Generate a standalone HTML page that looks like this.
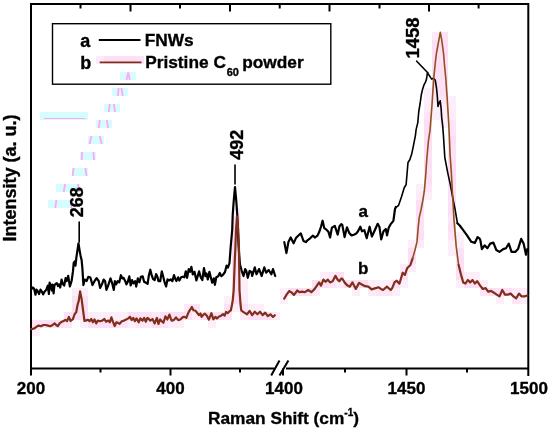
<!DOCTYPE html>
<html><head><meta charset="utf-8"><style>
html,body{margin:0;padding:0;background:#fff;width:550px;height:431px;overflow:hidden}
svg{display:block;will-change:transform}
text{font-family:"Liberation Sans",sans-serif;font-weight:bold;fill:#000;stroke:#000;stroke-width:0.35px}
</style></head><body>
<svg width="550" height="431" viewBox="0 0 550 431">
<g fill="#fcdff5"><rect x="432" y="32" width="8" height="8" fill-opacity="0.7"/><rect x="440" y="32" width="8" height="8" fill-opacity="0.9"/><rect x="432" y="40" width="16" height="8"/><rect x="432" y="48" width="16" height="8"/><rect x="96" y="56" width="8" height="8" fill-opacity="0.7"/><rect x="136" y="56" width="8" height="8" fill-opacity="0.9"/><rect x="440" y="56" width="8" height="8" fill-opacity="0.9"/><rect x="104" y="56" width="32" height="8"/><rect x="432" y="56" width="8" height="8"/><rect x="432" y="64" width="16" height="8"/><rect x="432" y="72" width="8" height="8" fill-opacity="0.9"/><rect x="440" y="72" width="8" height="8"/><rect x="440" y="80" width="8" height="8" fill-opacity="0.9"/><rect x="432" y="80" width="8" height="8"/><rect x="424" y="88" width="8" height="8" fill-opacity="0.5"/><rect x="432" y="88" width="8" height="8" fill-opacity="0.8"/><rect x="440" y="88" width="8" height="8"/><rect x="424" y="96" width="8" height="8" fill-opacity="0.5"/><rect x="448" y="96" width="8" height="8" fill-opacity="0.5"/><rect x="432" y="96" width="8" height="8" fill-opacity="0.7"/><rect x="440" y="96" width="8" height="8" fill-opacity="0.8"/><rect x="432" y="104" width="8" height="8" fill-opacity="0.5"/><rect x="448" y="104" width="8" height="8" fill-opacity="0.5"/><rect x="424" y="104" width="8" height="8" fill-opacity="0.6"/><rect x="440" y="104" width="8" height="8" fill-opacity="0.6"/><rect x="432" y="112" width="16" height="8" fill-opacity="0.5"/><rect x="448" y="112" width="8" height="8" fill-opacity="0.6"/><rect x="424" y="112" width="8" height="8" fill-opacity="0.8"/><rect x="440" y="120" width="8" height="8" fill-opacity="0.5"/><rect x="448" y="120" width="8" height="8" fill-opacity="0.8"/><rect x="424" y="120" width="8" height="8"/><rect x="448" y="128" width="8" height="8" fill-opacity="0.8"/><rect x="424" y="128" width="8" height="8"/><rect x="424" y="136" width="8" height="8"/><rect x="448" y="136" width="8" height="8"/><rect x="448" y="144" width="8" height="8" fill-opacity="0.9"/><rect x="424" y="144" width="8" height="8"/><rect x="424" y="152" width="8" height="8" fill-opacity="0.9"/><rect x="448" y="152" width="8" height="8" fill-opacity="0.9"/><rect x="424" y="160" width="8" height="8"/><rect x="448" y="160" width="8" height="8"/><rect x="424" y="168" width="8" height="8" fill-opacity="0.9"/><rect x="448" y="168" width="8" height="8"/><rect x="424" y="176" width="8" height="8"/><rect x="448" y="176" width="8" height="8"/><rect x="416" y="184" width="8" height="8" fill-opacity="0.5"/><rect x="424" y="184" width="8" height="8" fill-opacity="0.8"/><rect x="448" y="184" width="8" height="8" fill-opacity="0.9"/><rect x="424" y="192" width="8" height="8" fill-opacity="0.5"/><rect x="416" y="192" width="8" height="8" fill-opacity="0.7"/><rect x="448" y="192" width="8" height="8"/><rect x="448" y="200" width="8" height="8" fill-opacity="0.9"/><rect x="416" y="200" width="8" height="8"/><rect x="232" y="208" width="8" height="8" fill-opacity="0.5"/><rect x="416" y="208" width="8" height="8"/><rect x="448" y="208" width="8" height="8"/><rect x="448" y="216" width="8" height="8" fill-opacity="0.8"/><rect x="416" y="216" width="8" height="8" fill-opacity="0.9"/><rect x="232" y="216" width="8" height="8"/><rect x="416" y="224" width="8" height="8" fill-opacity="0.9"/><rect x="232" y="224" width="8" height="8"/><rect x="448" y="224" width="8" height="8"/><rect x="456" y="232" width="8" height="8" fill-opacity="0.5"/><rect x="448" y="232" width="8" height="8" fill-opacity="0.8"/><rect x="232" y="232" width="8" height="8"/><rect x="416" y="232" width="8" height="8"/><rect x="408" y="240" width="8" height="8" fill-opacity="0.5"/><rect x="448" y="240" width="16" height="8" fill-opacity="0.5"/><rect x="416" y="240" width="8" height="8" fill-opacity="0.7"/><rect x="232" y="240" width="8" height="8"/><rect x="448" y="248" width="8" height="8" fill-opacity="0.5"/><rect x="456" y="248" width="8" height="8" fill-opacity="0.9"/><rect x="232" y="248" width="8" height="8"/><rect x="408" y="248" width="8" height="8"/><rect x="232" y="256" width="8" height="8"/><rect x="408" y="256" width="8" height="8"/><rect x="456" y="256" width="8" height="8"/><rect x="408" y="264" width="8" height="8" fill-opacity="0.6"/><rect x="400" y="264" width="8" height="8" fill-opacity="0.7"/><rect x="232" y="264" width="8" height="8"/><rect x="456" y="264" width="8" height="8"/><rect x="240" y="272" width="8" height="8" fill-opacity="0.5"/><rect x="320" y="272" width="8" height="8" fill-opacity="0.5"/><rect x="464" y="272" width="16" height="8" fill-opacity="0.5"/><rect x="328" y="272" width="8" height="8" fill-opacity="0.7"/><rect x="232" y="272" width="8" height="8"/><rect x="336" y="272" width="8" height="8"/><rect x="400" y="272" width="8" height="8"/><rect x="456" y="272" width="8" height="8"/><rect x="240" y="280" width="8" height="8" fill-opacity="0.5"/><rect x="368" y="280" width="24" height="8" fill-opacity="0.5"/><rect x="400" y="280" width="8" height="8" fill-opacity="0.5"/><rect x="456" y="280" width="8" height="8" fill-opacity="0.5"/><rect x="336" y="280" width="8" height="8" fill-opacity="0.6"/><rect x="480" y="280" width="8" height="8" fill-opacity="0.6"/><rect x="328" y="280" width="8" height="8" fill-opacity="0.8"/><rect x="232" y="280" width="8" height="8"/><rect x="312" y="280" width="16" height="8"/><rect x="344" y="280" width="24" height="8"/><rect x="392" y="280" width="8" height="8"/><rect x="464" y="280" width="16" height="8"/><rect x="72" y="288" width="16" height="8" fill-opacity="0.5"/><rect x="240" y="288" width="8" height="8" fill-opacity="0.5"/><rect x="280" y="288" width="8" height="8" fill-opacity="0.5"/><rect x="352" y="288" width="8" height="8" fill-opacity="0.5"/><rect x="392" y="288" width="8" height="8" fill-opacity="0.5"/><rect x="520" y="288" width="8" height="8" fill-opacity="0.6"/><rect x="312" y="288" width="8" height="8" fill-opacity="0.7"/><rect x="368" y="288" width="8" height="8" fill-opacity="0.7"/><rect x="512" y="288" width="8" height="8" fill-opacity="0.7"/><rect x="376" y="288" width="16" height="8" fill-opacity="0.8"/><rect x="480" y="288" width="8" height="8" fill-opacity="0.8"/><rect x="232" y="288" width="8" height="8"/><rect x="288" y="288" width="24" height="8"/><rect x="488" y="288" width="24" height="8"/><rect x="224" y="296" width="8" height="8" fill-opacity="0.5"/><rect x="280" y="296" width="8" height="8" fill-opacity="0.5"/><rect x="496" y="296" width="8" height="8" fill-opacity="0.5"/><rect x="240" y="296" width="8" height="8" fill-opacity="0.6"/><rect x="520" y="296" width="8" height="8" fill-opacity="0.6"/><rect x="512" y="296" width="8" height="8" fill-opacity="0.8"/><rect x="72" y="296" width="16" height="8" fill-opacity="0.9"/><rect x="232" y="296" width="8" height="8"/><rect x="232" y="304" width="8" height="8" fill-opacity="0.5"/><rect x="248" y="304" width="16" height="8" fill-opacity="0.5"/><rect x="184" y="304" width="8" height="8" fill-opacity="0.7"/><rect x="192" y="304" width="8" height="8" fill-opacity="0.9"/><rect x="224" y="304" width="8" height="8" fill-opacity="0.9"/><rect x="240" y="304" width="8" height="8" fill-opacity="0.9"/><rect x="72" y="304" width="16" height="8"/><rect x="96" y="312" width="8" height="8" fill-opacity="0.5"/><rect x="112" y="312" width="16" height="8" fill-opacity="0.5"/><rect x="88" y="312" width="8" height="8" fill-opacity="0.6"/><rect x="104" y="312" width="8" height="8" fill-opacity="0.6"/><rect x="192" y="312" width="8" height="8" fill-opacity="0.6"/><rect x="272" y="312" width="8" height="8" fill-opacity="0.6"/><rect x="152" y="312" width="8" height="8" fill-opacity="0.7"/><rect x="240" y="312" width="8" height="8" fill-opacity="0.7"/><rect x="224" y="312" width="8" height="8" fill-opacity="0.8"/><rect x="64" y="312" width="8" height="8" fill-opacity="0.9"/><rect x="136" y="312" width="16" height="8" fill-opacity="0.9"/><rect x="72" y="312" width="16" height="8"/><rect x="128" y="312" width="8" height="8"/><rect x="160" y="312" width="32" height="8"/><rect x="200" y="312" width="24" height="8"/><rect x="248" y="312" width="24" height="8"/><rect x="80" y="320" width="8" height="8" fill-opacity="0.5"/><rect x="128" y="320" width="8" height="8" fill-opacity="0.5"/><rect x="168" y="320" width="16" height="8" fill-opacity="0.5"/><rect x="208" y="320" width="8" height="8" fill-opacity="0.5"/><rect x="144" y="320" width="8" height="8" fill-opacity="0.7"/><rect x="32" y="320" width="8" height="8" fill-opacity="0.8"/><rect x="64" y="320" width="8" height="8" fill-opacity="0.8"/><rect x="120" y="320" width="8" height="8" fill-opacity="0.8"/><rect x="136" y="320" width="8" height="8" fill-opacity="0.8"/><rect x="160" y="320" width="8" height="8" fill-opacity="0.8"/><rect x="40" y="320" width="8" height="8" fill-opacity="0.9"/><rect x="48" y="320" width="16" height="8"/><rect x="88" y="320" width="32" height="8"/><rect x="152" y="320" width="8" height="8"/><rect x="32" y="328" width="8" height="8" fill-opacity="0.5"/></g>
<g fill="#d6fdfd"><rect x="120" y="72" width="16" height="8"/><rect x="40" y="112" width="48" height="8"/><rect x="112" y="88" width="16" height="8"/><rect x="104" y="104" width="16" height="8"/><rect x="96" y="120" width="16" height="8"/><rect x="88" y="136" width="16" height="8"/><rect x="80" y="152" width="16" height="8"/><rect x="72" y="168" width="16" height="8"/><rect x="56" y="184" width="24" height="8"/><rect x="48" y="200" width="24" height="8"/></g><g fill="none" stroke="#ffa6f6" stroke-width="1.8"><path d="M126.5,80 L128.3,72.5 L129.8,80"/><path d="M44,118.5 H85.4" stroke-width="1.2"/><path d="M118.7,88 L117.8,96 M121.3,88 L122.8,96"/><path d="M109.8,104 L108.7,112 M113.7,104 L115.2,112"/><path d="M99.8,120 L98.8,128 M106.8,120 L108.2,128"/><path d="M91.4,136 L89.6,144 M99.8,136 L101.6,144"/><path d="M82.1,152 L81.7,160 M93.4,152 L94,160"/><path d="M73.6,168 L72.6,176 M85.4,168 L86.5,176"/><path d="M65,184 L63.8,192 M78,184 L78.8,192"/><path d="M56.4,200 L55.3,208 M70.6,200 L71.6,208"/></g>
<g fill="none" stroke="#000" stroke-width="2">
<path d="M31,375.5 V4 H528.3 V376"/>
<path d="M30,368.4 H274.5 M286,368.4 H529"/>
<path d="M170.5,368.4 V375.5 M283,368.4 V375.5 M406.5,368.4 V375.5"/>
<path d="M100.5,368.4 V372.5 M240,368.4 V372.5 M345,368.4 V372.5 M467,368.4 V372.5"/>
<path d="M130.5,4 V11.5 M230,4 V11.5 M329.5,4 V11.5 M429,4 V11.5"/>
<path d="M80.5,4 V8.5 M180,4 V8.5 M279.7,4 V8.5 M379.5,4 V8.5 M478.6,4 V8.5"/>
<path d="M271.2,375.6 L279.5,360.4 M279.5,375.6 L288.4,360.4"/>
</g>
<g fill="none" stroke-linejoin="round" stroke-linecap="round">
<path d="M31,288.9 L31.8,288.9 L32.9,287.5 L34,288.5 L35.5,294.7 L36.5,289.6 L37.6,291 L39.1,294 L40.5,289.6 L42,291.8 L43.1,294.4 L44.5,291.8 L46.4,289.6 L47.8,285.6 L48.9,294 L49.6,282.7 L50.7,285.3 L51.8,290.4 L52.5,284.5 L53.6,293.3 L54.4,285.3 L55.8,283.8 L56.9,283.1 L58,286 L59.1,284.5 L60.2,287.5 L61.6,279.5 L62.7,283.8 L64.2,285.6 L65.6,278 L66.7,281 L68.2,275.8 L69.9,286.5 L71.6,281 L73,271.2 L73.7,262.9 L74.6,261.5 L75.5,265.6 L76.4,257.3 L78.5,243.4 L79.6,250.3 L80.6,255.9 L81.6,260 L82.4,268.4 L83.4,285.1 L84.8,279.6 L86.6,281 L88.3,276.8 L90.4,277.5 L92.5,285.1 L94.6,281 L96.6,278.2 L98.7,281 L100.1,287.9 L102.2,283.7 L103.6,279.6 L105.1,281.2 L106.4,289.9 L107.8,286.6 L109.2,282.3 L110.5,278.4 L111.9,282.3 L113.8,289.9 L114.9,281.2 L116.2,284.4 L117.6,281.2 L119.3,282.3 L120.9,275.2 L122.3,278.4 L123.6,277.9 L125.3,281.2 L126.4,284.4 L127.8,281.7 L129.3,276.3 L130.7,285.5 L132.1,280.1 L133.4,283.4 L135.1,281.2 L136.2,286.6 L137.8,278.4 L139.4,282.3 L140.9,276.8 L142.7,276.3 L144.1,281.7 L146,282.8 L147.6,283.9 L148.9,275.2 L150.3,269.7 L151.8,275.7 L153.1,279 L154.7,280.1 L156.1,274.1 L157.4,276.8 L158.5,281.2 L160.2,281.2 L161.8,271.4 L163.1,276.2 L164.4,281.6 L166.1,286.5 L167.5,279.4 L169.1,280.5 L170.7,279.4 L172.4,281.1 L174,275.1 L175.1,278.4 L176.4,281.1 L178.1,277.3 L179.4,280.5 L181.1,277.3 L182.7,276.7 L184.4,277.3 L185.8,271.3 L187.1,277.8 L188.7,269.1 L190.1,271.8 L191.4,266.9 L192.8,274.5 L194.5,271.8 L196.4,280.5 L198,275.1 L199.1,271.3 L200.7,277.3 L202.3,280 L204,268 L205.4,276.2 L206.5,273.4 L207.8,279.4 L209.4,271.8 L210.9,277.8 L212.2,282.7 L213.8,278.4 L214.9,284.9 L216.3,277.3 L218.2,276.2 L219.8,272.9 L221.4,276.2 L222.8,275 L225,272 L226.6,265.6 L228,267.5 L229.5,263 L230.6,248 L232.2,230 L232.7,215 L233.8,200 L235,187 L236.2,200 L237.3,215 L237.8,230 L238.6,245 L239.2,255 L240,264.5 L241.7,270.9 L243.5,276 L245.2,269.1 L246.2,270.6 L247.8,277.8 L249.6,270.9 L251.4,272 L252.2,276 L254.8,267.4 L256.5,274.3 L259.1,269.1 L261.7,276 L264.3,267.4 L266.1,272.6 L268.7,270 L271.3,274.3 L273,269.1 L275.2,276" stroke="#000" stroke-width="2.2"/>
<path d="M284.3,242.1 L286.4,253.1 L288.4,242.1 L290.7,237.5 L293.6,243.3 L295.9,238.1 L298.2,235.7 L300.8,233.4 L303.5,241 L305.8,242.1 L308.1,239.8 L310.4,238.1 L312.7,235.7 L315.1,237.5 L317.4,235.7 L319.1,232.3 L320.9,227 L322.6,220.7 L324.3,228.2 L326.7,229.9 L328.4,231.7 L330.1,237.5 L331.9,227.6 L334.8,225.9 L337.7,234.6 L339.4,226.5 L341.2,224.1 L342.3,224.9 L344.6,237.1 L347,227.3 L349.3,233.1 L351.6,235.4 L353.9,234.8 L356.2,233.6 L358,231.3 L360.3,226.7 L362,231.3 L364.4,230.2 L366.7,238.3 L369.6,226.7 L371.9,236.5 L374.8,230.2 L377.7,223.8 L379.4,226.7 L381.2,239.4 L383.5,231.3 L385.8,229 L387,235.4 L388.7,227.8 L390.5,224.4 L393.4,220.9 L395,209 L395.9,207" stroke="#000" stroke-width="2.2"/>
<path d="M395.9,207 L397.2,206.6 L398.7,205.1 L401.5,196.8 L404.3,187.5 L406.1,184.7 L408,162.5 L409.8,159.7 L411.7,154.1 L413.6,144.8 L415.4,135.6 L416.1,129.6 L417.8,122.6 L418.7,112.2 L420.1,103.5 L421.3,94.8 L422.5,89.6 L423.9,85.2 L425.7,81.7 L426.5,79.1 L427.4,73 L428.8,74.8 L430.5,77.4 L431.7,79.1 L433.5,78.3 L435.2,80 L436.5,87.8 L437.2,94.8 L438,106.4 L439.2,102.6 L440.2,100.8 L441.1,108.2 L441.7,117.4 L442.7,126.1 L443.4,135 L444.8,157.3 L447.6,172.1 L450.4,185.1 L453.2,200 L455.1,209.3 L457.4,223.2" stroke="#000" stroke-width="1.6"/>
<path d="M457.4,223.2 L459.7,225.5 L463.2,230.2 L466.7,234.8 L471.3,241.8 L474.8,242.9 L477.6,237.1 L479.4,238.3 L480.3,240 L481.9,249.1 L484.6,245.4 L487.4,248.2 L490.2,243.6 L493.4,242.6 L496.3,250 L499.5,251.9 L503.2,249.1 L506,248.2 L508.8,243.6 L511.5,251.9 L515.3,251.9 L518,249.1 L521.2,238.9 L523.6,243.6 L526,254.7 L527.3,249.1" stroke="#000" stroke-width="2.2"/>
<path d="M31,329.1 L31.7,329.1 L34.1,328.5 L36.4,326.8 L38.7,325.6 L41,326.2 L43.3,325 L45.7,325 L48,325.6 L50.3,326.2 L52.6,325 L54.6,323.3 L56.1,325 L57.8,326.2 L59.6,323.3 L61.3,322.1 L63.6,321 L65.4,319.8 L67.1,321 L68.9,316.9 L70.6,321 L72.9,319.2 L74.7,314 L76.2,312.3 L77.6,304.7 L78.7,301.2 L80.1,291.4 L81.6,298.9 L83.1,310.5 L84.5,321 L86.3,320.4 L88,319.8 L89.6,321.2 L91.3,319 L92.9,322.3 L94.5,319.5 L96.2,323.4 L97.8,320.6 L100,321.2 L102.2,320.6 L104.4,319 L106,321.7 L108.2,320.6 L109.8,322.3 L111.4,317.4 L112.9,321.7 L114.7,326.1 L116.4,322.3 L118,322.8 L119.6,323.9 L121.8,321.2 L124,320.6 L126.2,319.5 L128.3,318.4 L130,316.8 L131.6,320.1 L133.3,317.9 L134.9,321.2 L136.5,318.4 L138.7,322.3 L140.3,318.4 L142.5,320.6 L144.2,317.9 L145.8,321.7 L147.4,317.9 L148.2,318.4 L150.4,320.6 L152.5,319 L154.7,323.4 L156.9,317.9 L158.5,323.9 L160.2,319.5 L161.8,321.2 L163.4,322.8 L165.4,316.3 L167.3,319.5 L169.4,314.6 L171.6,320.6 L173.8,320.1 L176,317.4 L178.2,320.1 L180.4,319.5 L182.5,317.4 L184.2,316.8 L186.3,317.9 L188.5,312.4 L190.2,309.7 L191.8,307 L193.4,310.3 L195.6,310.8 L197.3,313 L198.9,315.2 L200.5,313.5 L201.6,316.9 L203.2,314.9 L204.9,313.7 L206.9,315.7 L208.9,319.7 L211.4,313.2 L213.4,319.3 L215.4,316.9 L217,318.5 L219.1,316.5 L221.1,315.7 L223.1,314.1 L224.7,315.7 L226,312 L227.6,313.2 L229.6,311.2 L230.8,310.4 L232,304.7 L232.8,299.9 L233.7,290 L234.8,260 L235.3,250 L236,230 L237,216.5 L238.2,230 L239,250 L239.1,260 L239.5,290 L240.5,304 L241.2,310 L241.7,310.9 L244.3,312.6 L247,314.3 L249.6,310.9 L252.2,315.2 L254.8,311.7 L257.4,314.3 L260,311.7 L262.6,315.2 L265.2,312.6 L267.8,316.1 L270.4,314.3 L273,317 L274.8,315.2" stroke="#80301a" stroke-width="2.2"/>
<path d="M284.2,298.7 L286.4,294.9 L289.1,291.1 L291.3,292.2 L294,294.9 L297.3,290.5 L299.4,292.2 L302.2,291.6 L304.9,292.2 L308.2,290 L311.4,292.2 L314.7,288.9 L316.9,285.6 L319.1,282.4 L321,285.6 L323.4,279.6 L325.6,281.8 L327.8,279.6 L330,282.4 L332.7,281.3 L335.4,275.8 L337.6,279.6 L339.3,281.3 L341.4,278.5 L342.2,278.5 L344.9,282.9 L347.6,285.6 L349.8,286.7 L352.5,282.4 L355.8,288.9 L359.1,282.9 L361.8,284.5 L365.1,286.2 L368.4,286.7 L371.6,289.4 L374.9,288.4 L378.7,287.3 L380.9,288.9 L383.1,290 L386.9,286.7 L390.7,290 L392.3,287.8 L394.5,282.4 L396.7,280.7 L399.4,283.7 L402.7,272.7 L404.9,274.9 L407.1,268.3 L410.4,265 L412.6,258.4" stroke="#80301a" stroke-width="2.2"/>
<path d="M412.6,258.4 L414.8,250.7 L417,241.9 L418.1,228.6 L419.2,217.6 L421,210 L422.8,200.5 L424.3,191.2 L425.6,176.4 L426.9,157.8 L428.4,141.1 L430,130.5 L431.9,106.4 L433.7,78.6 L435.6,60 L436.5,53 L438.9,39.9 L440.3,32.4 L441.7,39.9 L443.5,53 L444.5,65 L445.8,78.6 L447.1,97.1 L448.6,121.2 L449.5,140 L450,153.6 L451.3,172.1 L452.3,190.7 L453.2,205.5 L453.9,218.6 L456.2,246.4 L458.6,265" stroke="#94501f" stroke-width="1.6"/>
<path d="M458.6,265 L460.9,274.2 L463.2,282.4 L465.5,283.5 L467.8,280 L470.2,282.4 L472.5,280 L474.8,283.5 L477.1,281.2 L480,285.3 L482.8,289 L485.6,288.1 L488.3,291.8 L491.1,290.9 L493.9,292.7 L496.7,294.6 L499.5,296.4 L502.3,290 L505,294.6 L507.8,294.6 L510.6,293.6 L513.4,296.4 L516.2,298.3 L519,293.6 L521.7,296.4 L524.5,296.4 L527.3,295.5" stroke="#80301a" stroke-width="2.2"/>
<path d="M79.2,222 V242 M235,165 V184 M416.7,61.2 L428,73" stroke="#000" stroke-width="1.6"/>
</g>
<rect x="52.5" y="23.7" width="278.3" height="60.5" fill="none" stroke="#000" stroke-width="1.4"/>
<text x="80.3" y="46.5" font-size="18">a</text>
<text x="80.3" y="68.7" font-size="18">b</text>
<path d="M98.8,40 H140.5" stroke="#000" stroke-width="1.8"/>
<path d="M99.7,62.3 H141.5" stroke="#80301a" stroke-width="1.8"/>
<text x="144.7" y="46.2" font-size="17.3">FNWs</text>
<text x="145.2" y="68.4" font-size="17.3">Pristine C<tspan font-size="11" dx="0.8" dy="7.8">60</tspan><tspan dx="-1.5" dy="-7.8"> powder</tspan></text>
<text x="31" y="394" font-size="17" text-anchor="middle">200</text>
<text x="170.5" y="394" font-size="17" text-anchor="middle">400</text>
<text x="284" y="394" font-size="17" text-anchor="middle">1400</text>
<text x="406.5" y="394" font-size="17" text-anchor="middle">1450</text>
<text x="529" y="394" font-size="17" text-anchor="middle">1500</text>
<text x="283.5" y="424.4" font-size="17.3" text-anchor="middle">Raman Shift (cm<tspan font-size="10" dy="-8">-1</tspan><tspan dy="8">)</tspan></text>
<text transform="translate(15.5,178) rotate(-90)" font-size="18" text-anchor="middle">Intensity (a. u.)</text>
<text transform="translate(82.8,202.3) rotate(-90)" font-size="18" text-anchor="middle">268</text>
<text transform="translate(243.2,144.8) rotate(-90)" font-size="18" text-anchor="middle">492</text>
<text transform="translate(418.7,38) rotate(-90)" font-size="18.5" text-anchor="middle">1458</text>
<text x="363.3" y="217" font-size="17" text-anchor="middle">a</text>
<text x="363.3" y="274" font-size="17" text-anchor="middle">b</text>
</svg>
</body></html>
